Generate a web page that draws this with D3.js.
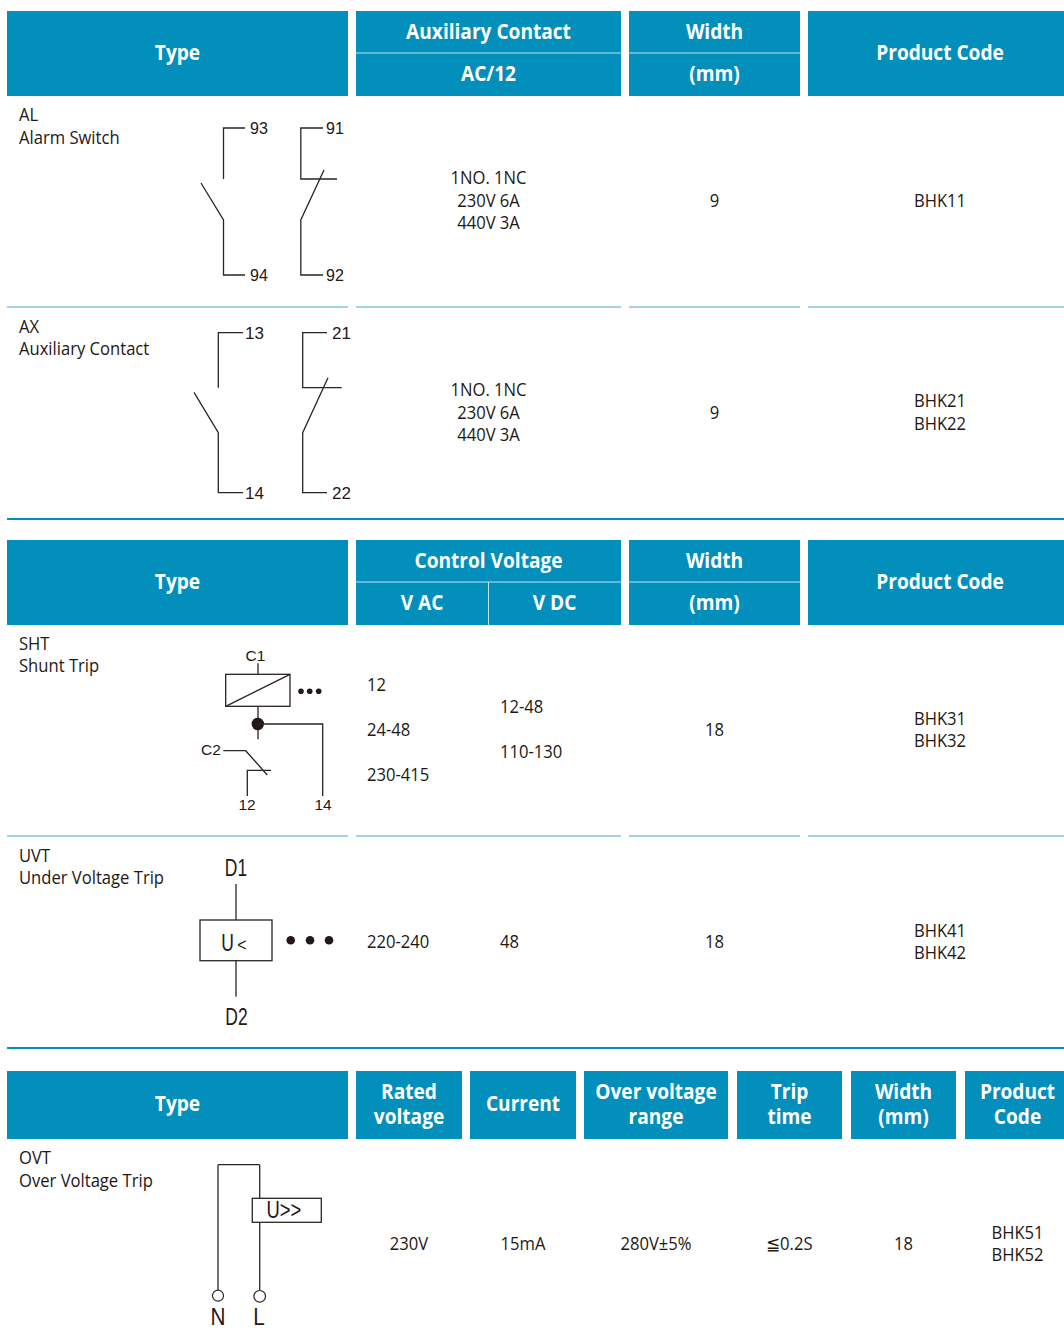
<!DOCTYPE html>
<html>
<head>
<meta charset="utf-8">
<title>BHK accessories</title>
<script src="https://cdn.jsdelivr.net/npm/d3@7/dist/d3.min.js"></script>
<style>
  html, body { margin: 0; padding: 0; background: #fff; }
  svg { display: block; }
  text { font-family: "Open Sans", sans-serif; fill: #231815; }
  .head { font-weight: 700; fill: #fff; }
  .wire { fill: none; stroke: #2b2422; stroke-width: 1.3; }
  .sym { font-family: "Liberation Sans", Arial, sans-serif; }
</style>
</head>
<body>
<script>
// table text
var typeHead = 'Type';
var codeHead = 'Product Code';
var widthHead = ['Width', '(mm)'];

var auxHead = ['Auxiliary Contact', 'AC/12'];
var auxTypes = [['AL', 'Alarm Switch'], ['AX', 'Auxiliary Contact']];
var auxRatings = ['1NO. 1NC', '230V 6A', '440V 3A'];
var auxWidths = ['9', '9'];
var auxCodes = [['BHK11'], ['BHK21', 'BHK22']];

var tripHead = 'Control Voltage';
var tripSubHead = ['V AC', 'V DC'];
var tripTypes = [['SHT', 'Shunt Trip'], ['UVT', 'Under Voltage Trip']];
var tripAc = [['12', '24-48', '230-415'], ['220-240']];
var tripDc = [['12-48', '110-130'], ['48']];
var tripWidths = ['18', '18'];
var tripCodes = [['BHK31', 'BHK32'], ['BHK41', 'BHK42']];

var ovtHeads = [['Rated', 'voltage'], ['Current'], ['Over voltage', 'range'], ['Trip', 'time'], ['Width', '(mm)'], ['Product', 'Code']];
var ovtType = ['OVT', 'Over Voltage Trip'];
var ovtValues = [['230V'], ['15mA'], ['280V±5%'], ['≦0.2S'], ['18'], ['BHK51', 'BHK52']];

// layout (the last columns run past the page edge, as in the original sheet)
var W = 1064, H = 1344;
var BLUE = '#038fbb', RULE = '#45a8cc', SEP = '#bfe3ef';
var HEAD_SX = 0.91, BODY_SX = 0.95;
var wideCols = [[7, 348], [356, 621], [629, 800], [808, 1072]];
var ovtCols = [[7, 348], [356, 462], [470, 576], [584, 728], [737, 842], [851, 956], [965, 1070]];
function mid(c) { return (c[0] + c[1]) / 2; }

var svg = d3.select('body').append('svg').attr('width', W).attr('height', H);
var gHead = svg.append('g'), gRule = svg.append('g'), gText = svg.append('g'), gSym = svg.append('g');

function label(parent, x, y, str, size, cls, anchor, sx) {
  return parent.append('text')
    .attr('class', cls || null)
    .attr('transform', 'translate(' + x + ',' + y + ') scale(' + (sx || 1) + ',1)')
    .attr('dy', '.35em')
    .attr('text-anchor', anchor || 'middle')
    .style('font-size', size + 'px')
    .text(str);
}
function head(x, y, str) { return label(gText, x, y, str, 21, 'head', 'middle', HEAD_SX); }
function body(x, y, str, anchor) { return label(gText, x, y, str, 17.5, null, anchor || 'middle', BODY_SX); }
// several lines centred on y
function block(x, y, lines, gap, anchor) {
  lines.forEach(function (s, i) { body(x, y + (i - (lines.length - 1) / 2) * gap, s, anchor); });
}
function cell(c, y0, y1) {
  gHead.append('rect').attr('x', c[0]).attr('y', y0)
    .attr('width', c[1] - c[0]).attr('height', y1 - y0).attr('fill', BLUE);
}
function hLine(x0, x1, y, color, w) {
  gRule.append('line').attr('x1', x0).attr('x2', x1).attr('y1', y).attr('y2', y)
    .attr('stroke', color).attr('stroke-width', w);
}
function rowRule(y) { wideCols.forEach(function (c) { hLine(c[0], c[1], y, RULE, 1.2); }); }
function endRule(y) { hLine(7, W, y, BLUE, 2); }

var line = d3.line();
function wire(pts) { gSym.append('path').attr('class', 'wire').attr('d', line(pts)); }
function dot(x, y, r) { gSym.append('circle').attr('cx', x).attr('cy', y).attr('r', r).attr('fill', '#231815'); }
function ring(x, y, r) {
  gSym.append('circle').attr('cx', x).attr('cy', y).attr('r', r)
    .attr('fill', '#fff').attr('stroke', '#2b2422').attr('stroke-width', 1.2);
}
function box(x0, y0, x1, y1) {
  gSym.append('rect').attr('class', 'wire').attr('x', x0).attr('y', y0)
    .attr('width', x1 - x0).attr('height', y1 - y0);
}
function sym(x, y, str, size, anchor, sx) { return label(gSym, x, y, str, size, 'sym', anchor, sx); }

// header with a two line middle section
function twoRowHead(y0, y1, ySep) {
  wideCols.forEach(function (c) { cell(c, y0, y1); });
  [wideCols[1], wideCols[2]].forEach(function (c) { hLine(c[0], c[1], ySep, SEP, 1); });
  var ym = (y0 + y1) / 2 - 1, yTop = (y0 + ySep) / 2 - 0.5, yBot = (ySep + y1) / 2 - 0.5;
  head(mid(wideCols[0]), ym, typeHead);
  head(mid(wideCols[3]), ym, codeHead);
  head(mid(wideCols[2]), yTop, widthHead[0]);
  head(mid(wideCols[2]), yBot, widthHead[1]);
  return { top: yTop, bottom: yBot };
}

// contact symbols
function contactNO(x, xEnd, xBlade, yTop, yGap, yHinge, yBot, yBladeEnd) {
  wire([[xEnd, yTop], [x, yTop], [x, yGap]]);
  wire([[xBlade, yBladeEnd], [x, yHinge], [x, yBot], [xEnd, yBot]]);
}
function contactNC(x, xEnd, xBar, xBlade, yTop, yBar, yHinge, yBot, yBladeEnd) {
  wire([[xEnd, yTop], [x, yTop], [x, yBar], [xBar, yBar]]);
  wire([[xBlade, yBladeEnd], [x, yHinge], [x, yBot], [xEnd, yBot]]);
}

// table 1
var t1 = twoRowHead(11, 96, 53);
head(mid(wideCols[1]), t1.top, auxHead[0]);
head(mid(wideCols[1]), t1.bottom, auxHead[1]);
[[115, 137.5, 201], [327, 349, 413]].forEach(function (r, i) {
  body(19, r[0], auxTypes[i][0], 'start');
  body(19, r[1], auxTypes[i][1], 'start');
  block(mid(wideCols[1]), r[2] - 0.5, auxRatings, 22.5);
  body(mid(wideCols[2]), r[2], auxWidths[i]);
  block(mid(wideCols[3]), i ? r[2] - 0.5 : r[2], auxCodes[i], 22.5);
});
rowRule(307);
endRule(519);

contactNO(223.5, 245, 201, 128, 179, 220, 275, 183);
contactNC(300.8, 323, 337, 324, 128, 179, 220, 275, 170);
sym(250, 128, '93', 16, 'start');
sym(326, 128, '91', 16, 'start');
sym(250, 275, '94', 16, 'start');
sym(326, 275, '92', 16, 'start');

contactNO(218.3, 243, 194, 332.7, 387.7, 432.7, 492.7, 392.3);
contactNC(302.7, 327, 341.7, 328, 332.7, 387.7, 432.7, 492.7, 377.7);
sym(245, 333, '13', 17, 'start');
sym(332, 333, '21', 17, 'start');
sym(245, 493.5, '14', 17, 'start');
sym(332, 493.5, '22', 17, 'start');

// table 2
var t2 = twoRowHead(540, 625, 582);
head(mid(wideCols[1]), t2.top, tripHead);
head(422, t2.bottom, tripSubHead[0]);
head(554.5, t2.bottom, tripSubHead[1]);
gRule.append('line').attr('x1', 488.5).attr('x2', 488.5).attr('y1', 582).attr('y2', 625)
  .attr('stroke', SEP).attr('stroke-width', 1);
[[644, 666, 730], [856, 878, 942]].forEach(function (r, i) {
  body(19, r[0], tripTypes[i][0], 'start');
  body(19, r[1], tripTypes[i][1], 'start');
  block(367, r[2], tripAc[i], 45, 'start');
  block(500, i ? r[2] : r[2] - 0.5, tripDc[i], 45, 'start');
  body(mid(wideCols[2]), r[2], tripWidths[i]);
  block(mid(wideCols[3]), r[2], tripCodes[i], 22.5);
});
rowRule(836);
endRule(1048);

// shunt trip symbol
sym(255.5, 656, 'C1', 15.5);
wire([[258, 663.3], [258, 674.3]]);
box(225.7, 674.3, 290, 706.3);
wire([[225.7, 706.3], [290, 674.3]]);
[301, 309.7, 318.7].forEach(function (x) { dot(x, 691.3, 2.8); });
wire([[258, 706.3], [258, 739.3]]);
dot(257.8, 724, 6.2);
wire([[258, 724], [322.7, 724], [322.7, 796]]);
sym(211, 749.5, 'C2', 15.5);
wire([[223.3, 750.7], [245.7, 750.7], [267.3, 775]]);
wire([[271, 770.3], [247.3, 770.3], [247.3, 796]]);
sym(247, 805, '12', 15.5);
sym(323, 805, '14', 15.5);

// under voltage symbol
sym(236, 868, 'D1', 23, 'middle', 0.76);
wire([[236, 884], [236, 920]]);
box(200, 920, 272, 960.7);
sym(227.5, 943, 'U', 23, 'middle', 0.76);
sym(242, 944, '<', 19, 'middle', 0.85);
[290.7, 310, 329].forEach(function (x) { dot(x, 940.3, 4.3); });
wire([[236, 960.7], [236, 996.7]]);
sym(236.5, 1017, 'D2', 23, 'middle', 0.76);

// table 3
ovtCols.forEach(function (c) { cell(c, 1071, 1139); });
head(mid(ovtCols[0]), 1104, typeHead);
ovtHeads.forEach(function (lines, i) {
  var c = ovtCols[i + 1];
  lines.forEach(function (s, j) {
    head(mid(c), lines.length > 1 ? 1092 + j * 25 : 1104, s);
  });
});
body(19, 1158, ovtType[0], 'start');
body(19, 1181, ovtType[1], 'start');
ovtValues.forEach(function (lines, i) {
  block(mid(ovtCols[i + 1]), 1244, lines, 22.5);
});

// over voltage symbol
wire([[218, 1164.7], [259.7, 1164.7]]);
wire([[218, 1164.7], [218, 1290.5]]);
wire([[259.7, 1164.7], [259.7, 1198.3]]);
box(252.3, 1198.3, 321.3, 1222.3);
wire([[259.7, 1222.3], [259.7, 1290.5]]);
ring(218, 1295.7, 5.5);
ring(259.7, 1296.3, 5.8);
sym(266.5, 1210, 'U>>', 23, 'start', 0.8);
sym(218, 1317, 'N', 23, 'middle', 0.9);
sym(259, 1317, 'L', 23, 'middle', 0.9);
</script>
</body>
</html>
